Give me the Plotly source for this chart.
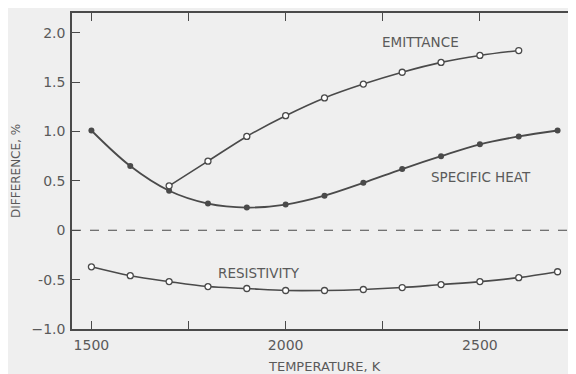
import plotly.graph_objects as go

temps_sh = [1500, 1600, 1700, 1800, 1900, 2000, 2100, 2200, 2300, 2400, 2500, 2600, 2700]
specific_heat = [1.01, 0.65, 0.40, 0.27, 0.23, 0.26, 0.35, 0.48, 0.62, 0.75, 0.87, 0.95, 1.01]

temps_em = [1700, 1800, 1900, 2000, 2100, 2200, 2300, 2400, 2500, 2600]
emittance = [0.45, 0.70, 0.95, 1.16, 1.34, 1.48, 1.60, 1.70, 1.77, 1.82]

temps_rs = [1500, 1600, 1700, 1800, 1900, 2000, 2100, 2200, 2300, 2400, 2500, 2600, 2700]
resistivity = [-0.37, -0.46, -0.52, -0.57, -0.59, -0.61, -0.61, -0.60, -0.58, -0.55, -0.52, -0.48, -0.42]

x_ticks = [1500, 2000, 2500]
y_ticks = [-1.0, -0.5, 0, 0.5, 1.0, 1.5, 2.0]
y_tick_labels = ["\u22121.0", "-0.5", "0", "0.5", "1.0", "1.5", "2.0"]

ink = "#4a4a4a"
txt_col = "#5a5a5a"
bg = "#efefef"
font = "Century Gothic, URW Gothic, DejaVu Sans, sans-serif"

fig = go.Figure()

fig.add_trace(go.Scatter(x=[1450, 2750], y=[0, 0], mode="lines",
                         line=dict(color=ink, width=1.2, dash="dash"),
                         hoverinfo="skip", showlegend=False))

fig.add_trace(go.Scatter(x=temps_sh, y=specific_heat, mode="lines+markers",
                         line=dict(color=ink, width=1.8, shape="spline"),
                         marker=dict(symbol="circle", size=6, color=ink),
                         showlegend=False))

fig.add_trace(go.Scatter(x=temps_em, y=emittance, mode="lines+markers",
                         line=dict(color=ink, width=1.6, shape="spline"),
                         marker=dict(symbol="circle", size=6, color="white",
                                     line=dict(color=ink, width=1.3)),
                         showlegend=False))

fig.add_trace(go.Scatter(x=temps_rs, y=resistivity, mode="lines+markers",
                         line=dict(color=ink, width=1.6, shape="spline"),
                         marker=dict(symbol="circle", size=6, color="white",
                                     line=dict(color=ink, width=1.3)),
                         showlegend=False))

labels = [("EMITTANCE", 2346, 1.91), ("SPECIFIC HEAT", 2503, 0.54), ("RESISTIVITY", 1931, -0.43)]
for txt, lx, ly in labels:
    fig.add_annotation(x=lx, y=ly, text=txt, showarrow=False,
                       font=dict(family=font, size=13.5, color=txt_col))

fig.add_annotation(xref="paper", yref="paper", x=0.5, y=-0.120, yanchor="middle",
                   text="TEMPERATURE, K", showarrow=False,
                   font=dict(family=font, size=13, color=txt_col))
fig.add_annotation(xref="paper", yref="paper", x=-0.111, y=0.5, xanchor="center",
                   text="DIFFERENCE, %", textangle=-90, showarrow=False,
                   font=dict(family=font, size=12, color=txt_col))

# page body has an 8px default margin; compensate so the plot lands where the reference has it
fig.update_layout(
    width=569, height=366,
    margin=dict(l=64, r=0, t=5, b=45),
    paper_bgcolor=bg, plot_bgcolor=bg,
    font=dict(family=font, color=txt_col),
)

fig.update_xaxes(
    range=[1450, 2750], tickmode="array", tickvals=x_ticks,
    ticks="inside", ticklen=8, tickwidth=1.2, tickcolor=ink,
    minor=dict(dtick=250, tick0=1500, ticks="inside", ticklen=8, tickwidth=1.2, tickcolor=ink),
    showline=True, linecolor=ink, linewidth=1.5, mirror="ticks",
    showgrid=False, zeroline=False, automargin=False,
    tickfont=dict(size=14, color=txt_col), ticklabelstandoff=2,
)
fig.update_yaxes(
    range=[-1.0, 2.2], tickmode="array", tickvals=y_ticks, ticktext=y_tick_labels,
    ticks="inside", ticklen=8, tickwidth=1.2, tickcolor=ink,
    showline=True, linecolor=ink, linewidth=1.5, mirror="ticks",
    showgrid=False, zeroline=False, automargin=False,
    tickfont=dict(size=14, color=txt_col), ticklabelstandoff=2,
)

fig.write_html("out.html")
